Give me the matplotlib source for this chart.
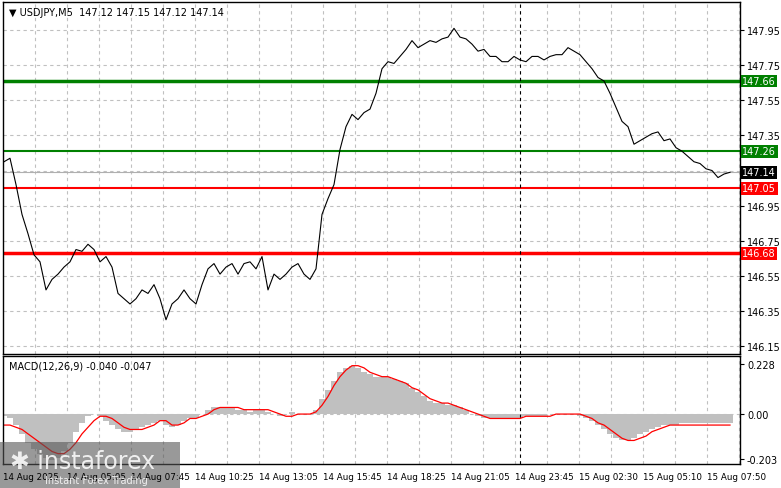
import numpy as np
import matplotlib
matplotlib.use("Agg")
import matplotlib.pyplot as plt
from matplotlib.patches import Rectangle

price = [147.20,147.22,147.07,146.90,146.79,146.67,146.63,146.47,146.53,146.56,146.60,146.63,146.70,146.69,146.73,146.70,146.63,146.66,146.60,146.45,
146.42,146.39,146.42,146.47,146.45,146.50,146.42,146.30,146.39,146.42,146.47,146.42,146.39,146.50,146.59,146.62,146.56,146.60,146.62,146.56,
146.62,146.63,146.59,146.66,146.47,146.56,146.53,146.56,146.60,146.62,146.56,146.53,146.59,146.90,146.99,147.07,147.27,147.40,147.47,147.44,
147.48,147.50,147.59,147.73,147.77,147.76,147.80,147.84,147.89,147.85,147.87,147.89,147.88,147.90,147.91,147.96,147.91,147.90,147.87,147.83,
147.84,147.80,147.80,147.77,147.77,147.80,147.78,147.77,147.80,147.80,147.78,147.80,147.81,147.81,147.85,147.83,147.81,147.77,147.73,147.68,
147.66,147.59,147.51,147.43,147.40,147.30,147.32,147.34,147.36,147.37,147.32,147.33,147.28,147.26,147.23,147.20,147.19,147.16,147.15,147.11,
147.13,147.14]
macd = [-0.01,-0.02,-0.05,-0.09,-0.13,-0.16,-0.18,-0.20,-0.21,-0.20,-0.17,-0.13,-0.08,-0.04,-0.01,0.0,-0.01,-0.03,-0.05,-0.07,
-0.08,-0.08,-0.07,-0.06,-0.05,-0.04,-0.03,-0.05,-0.06,-0.05,-0.03,-0.02,-0.02,0.0,0.02,0.03,0.03,0.03,0.03,0.02,
0.02,0.01,0.02,0.02,0.01,0.0,-0.01,0.0,0.01,0.0,0.0,0.0,0.02,0.07,0.11,0.15,0.19,0.21,0.22,0.21,
0.19,0.18,0.17,0.17,0.17,0.16,0.15,0.14,0.12,0.10,0.08,0.06,0.05,0.05,0.04,0.04,0.03,0.02,0.0,-0.01,
-0.02,-0.02,-0.02,-0.02,-0.02,-0.02,-0.02,-0.01,-0.01,-0.01,-0.01,0.0,0.0,0.0,0.0,0.0,-0.01,-0.02,-0.03,-0.05,
-0.07,-0.09,-0.11,-0.12,-0.12,-0.11,-0.09,-0.08,-0.07,-0.06,-0.05,-0.05,-0.05,-0.04,-0.04,-0.04,-0.04,-0.04,-0.04,-0.04,
-0.04,-0.04]
signal = [-0.05,-0.05,-0.06,-0.07,-0.09,-0.11,-0.13,-0.15,-0.17,-0.18,-0.18,-0.16,-0.13,-0.09,-0.06,-0.03,-0.01,-0.01,-0.02,-0.04,
-0.06,-0.07,-0.07,-0.07,-0.06,-0.05,-0.03,-0.03,-0.05,-0.05,-0.04,-0.02,-0.02,-0.01,0.0,0.02,0.03,0.03,0.03,0.03,
0.02,0.02,0.02,0.02,0.02,0.01,0.0,-0.01,-0.01,0.0,0.0,0.0,0.01,0.04,0.08,0.13,0.17,0.20,0.22,0.22,
0.21,0.19,0.18,0.17,0.17,0.16,0.15,0.14,0.12,0.11,0.09,0.07,0.06,0.05,0.05,0.04,0.03,0.02,0.01,0.0,
-0.01,-0.02,-0.02,-0.02,-0.02,-0.02,-0.02,-0.01,-0.01,-0.01,-0.01,-0.01,0.0,0.0,0.0,0.0,0.0,-0.01,-0.02,-0.04,
-0.05,-0.07,-0.09,-0.11,-0.12,-0.12,-0.11,-0.10,-0.08,-0.07,-0.06,-0.05,-0.05,-0.05,-0.05,-0.05,-0.05,-0.05,-0.05,-0.05,
-0.05,-0.05]
price_ticks = [146.15,146.35,146.55,146.75,146.95,147.15,147.35,147.55,147.75,147.95]
time_labels = ["14 Aug 2025","14 Aug 05:05","14 Aug 07:45","14 Aug 10:25","14 Aug 13:05","14 Aug 15:45",
               "14 Aug 18:25","14 Aug 21:05","14 Aug 23:45","15 Aug 02:30","15 Aug 05:10","15 Aug 07:50"]
levels = [(147.66,"green",2.5),(147.26,"green",1.5),(147.05,"red",1.5),(146.68,"red",2.5)]
current = 147.14

W,H = 781,489
fig = plt.figure(figsize=(W/100,H/100),dpi=100)
fs = 7
ax = fig.add_axes([3/W,1-355/H,737/W,352/H])
ax2 = fig.add_axes([3/W,1-465/H,737/W,108/H])
xlim = (0,368.5)
for a in (ax,ax2):
    a.set_xlim(*xlim)
    a.set_xticks(np.arange(16,369,16))
    a.grid(True,axis='x',color='#c0c0c0',ls=(0,(3,3)),lw=0.8)
    a.tick_params(axis='x',length=0,labelbottom=False)
    for s in a.spines.values(): s.set_linewidth(1); s.set_color('black')
    a.yaxis.tick_right()
    a.tick_params(axis='y',length=3,labelsize=fs,pad=2)

ax.set_ylim(146.105,148.11)
ax.set_yticks(price_ticks)
ax.set_yticklabels(["" if abs(v-147.15)<1e-6 else f"{v:.2f}" for v in price_ticks])
ax.grid(True,axis='y',color='#c0c0c0',ls=(0,(3,3)),lw=0.8)
xs = np.arange(len(price))*3+0.5
ax.axhline(current,color='#b0b0b0',lw=0.8)
for v,c,lw in levels:
    ax.axhline(v,color=c,lw=lw)
    col = '#008000' if c=='green' else '#ff0000'
    ax.text(1.003,v,f"{v:.2f}",transform=ax.get_yaxis_transform(),fontsize=fs,color='white',va='center',ha='left',
            bbox=dict(boxstyle='square,pad=0.15',fc=col,ec='none'),clip_on=False)
ax.text(1.003,current,f"{current:.2f}",transform=ax.get_yaxis_transform(),fontsize=fs,color='white',va='center',ha='left',
        bbox=dict(boxstyle='square,pad=0.15',fc='black',ec='none'),clip_on=False)
ax.plot(xs,price,color='black',lw=0.8)
ax.axvline(258.5,color='black',ls=(0,(3,3)),lw=0.8)
ax2.axvline(258.5,color='black',ls=(0,(3,3)),lw=0.8)
ax.text(0.008,0.985,"▼ USDJPY,M5  147.12 147.15 147.12 147.14",transform=ax.transAxes,fontsize=fs,va='top')

ax2.set_ylim(-0.227,0.264)
ax2.set_yticks([-0.203,0.0,0.228])
ax2.set_yticklabels(["-0.203","0.00","0.228"])
ax2.axhline(0,color='#c0c0c0',ls=(0,(3,3)),lw=0.8)
xm = np.arange(len(macd))*3+0.5
ax2.bar(xm,macd,width=3,color='#c0c0c0',linewidth=0)
ax2.plot(np.arange(len(signal))*3+0.5,signal,color='red',lw=0.9)
ax2.text(0.008,0.96,"MACD(12,26,9) -0.040 -0.047",transform=ax2.transAxes,fontsize=fs,va='top')

for i,lab in enumerate(time_labels):
    fig.text((3+64*i)/W,1-478/H,lab,fontsize=6.3,va='center',ha='left')

fig.patches.append(Rectangle((0,0),180/W,46/H,transform=fig.transFigure,fc='#555555',alpha=0.6,ec='none'))
fig.text(10/W,1-462/H,"✱ instaforex",fontsize=17,color='white',va='center',ha='left',alpha=0.85)
fig.text(45/W,1-481/H,"Instant Forex Trading",fontsize=7,color='white',va='center',ha='left',alpha=0.85)

fig.savefig("out.png",dpi=100)
